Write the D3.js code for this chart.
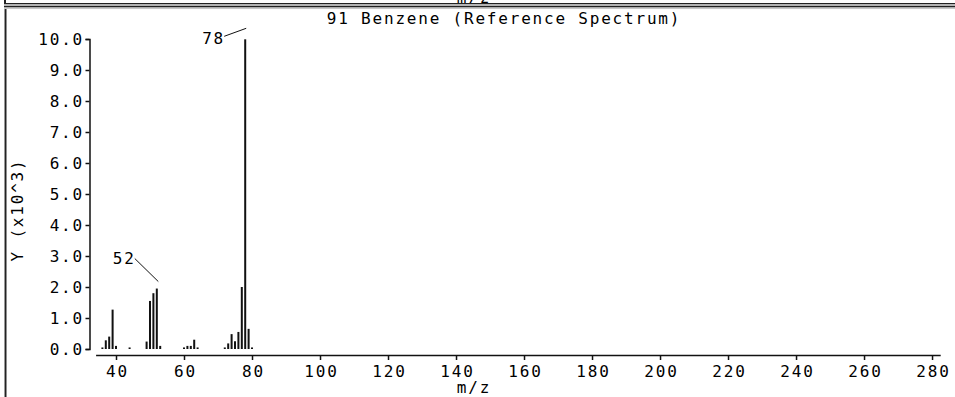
<!DOCTYPE html>
<html>
<head>
<meta charset="utf-8">
<script src="https://cdn.jsdelivr.net/npm/d3@7/dist/d3.min.js"></script>
<style>
  html, body { margin: 0; padding: 0; background: #fff; }
  svg { display: block; }
  text { font-family: "DejaVu Sans Mono", "Liberation Mono", monospace; font-size: 16px; letter-spacing: 1.8px; fill: #000; }
</style>
</head>
<body>
<script>
// Mass spectrum of benzene: m/z and relative abundance (units of 10^3)
const masses    = [36, 37, 38, 39, 40, 44, 49, 50, 51, 52, 53, 60, 61, 62, 63, 64, 72, 73, 74, 75, 76, 77, 78, 79, 80];
const abundance = [0.05, 0.28, 0.40, 1.27, 0.10, 0.05, 0.24, 1.55, 1.80, 1.95, 0.10, 0.05, 0.10, 0.10, 0.30, 0.05, 0.05, 0.18, 0.48, 0.25, 0.55, 2.00, 9.99, 0.65, 0.05];
const labelledPeaks = [52, 78];
const xTicks = [40, 60, 80, 100, 120, 140, 160, 180, 200, 220, 240, 260, 280];
const yTicks = [0, 1, 2, 3, 4, 5, 6, 7, 8, 9, 10];
const xDomain = [34, 282.4];
const yDomain = [0, 10];
const title = "91 Benzene (Reference Spectrum)";
const xTitle = "m/z";
const yTitle = "Y (x10^3)";

const W = 955, H = 397;
const svg = d3.select("body").append("svg").attr("width", W).attr("height", H);

// window frame: bands along the top (with the foot of the panel above) and a left border
const frame = svg.append("g");
frame.append("rect").attr("x", 4).attr("y", 0).attr("width", 2).attr("height", 3).attr("fill", "#222");
frame.append("text").attr("x", 474).attr("y", 2.5).attr("text-anchor", "middle").text(xTitle);
frame.append("rect").attr("x", 4).attr("y", 3).attr("width", W - 4).attr("height", 1).attr("fill", "#222");
frame.append("rect").attr("x", 4).attr("y", 4).attr("width", W - 4).attr("height", 2).attr("fill", "#b4b4b4");
frame.append("rect").attr("x", 4).attr("y", 6).attr("width", W - 4).attr("height", 1.5).attr("fill", "#222");
frame.append("rect").attr("x", 4).attr("y", 7.5).attr("width", W - 4).attr("height", 1.5).attr("fill", "#c8c8c8");
frame.append("rect").attr("x", 4).attr("y", 9).attr("width", 1).attr("height", H - 9).attr("fill", "#999");
frame.append("rect").attr("x", 5).attr("y", 9).attr("width", 1.5).attr("height", H - 9).attr("fill", "#222");

const x = d3.scaleLinear().domain(xDomain).range([95.6, 940.2]);
const y = d3.scaleLinear().domain(yDomain).range([349, 39]);

// axes
const yAxis = d3.axisLeft(y).tickValues(yTicks).tickFormat(d3.format(".1f"))
  .tickSize(4).tickSizeOuter(4).tickPadding(1.5);
const gy = svg.append("g").attr("transform", "translate(89.5,0)").call(yAxis);

const xAxis = d3.axisBottom(x).tickValues(xTicks).tickFormat(d3.format("d"))
  .tickSize(5).tickSizeOuter(0).tickPadding(6);
const gx = svg.append("g").attr("transform", "translate(0,355)").call(xAxis);

[gy, gx].forEach(g => {
  g.selectAll("path.domain").attr("stroke", "#111").attr("stroke-width", 1.5);
  g.selectAll(".tick line").attr("stroke", "#111").attr("stroke-width", 1.5);
  g.selectAll(".tick text").attr("font-family", null).attr("font-size", null).attr("fill", "#000");
});
gx.selectAll(".tick text").attr("dx", 0.9);

// peaks
const peaks = masses.map((m, i) => ({ m, v: abundance[i] }));
svg.append("g").selectAll("rect").data(peaks).join("rect")
  .attr("x", d => x(d.m) - 1)
  .attr("width", 2)
  .attr("y", d => y(d.v))
  .attr("height", d => y(0) - y(d.v))
  .attr("fill", "#111");

// leader lines and labels for the marked peaks
const leaderLayout = {
  52: { x1: -22, y1: -30, x2: 1.5, y2: -7, lx: -23, ly: -25 },
  78: { x1: -21, y1: -3, x2: 1, y2: -11, lx: -22, ly: 5 }
};
const ann = svg.append("g");
labelledPeaks.forEach(m => {
  const p = peaks.find(d => d.m === m);
  const L = leaderLayout[m];
  const px = x(p.m), py = y(p.v);
  ann.append("line")
    .attr("x1", px + L.x1).attr("y1", py + L.y1)
    .attr("x2", px + L.x2).attr("y2", py + L.y2)
    .attr("stroke", "#111").attr("stroke-width", 1);
  ann.append("text")
    .attr("x", px + L.lx + 1.8).attr("y", py + L.ly)
    .attr("text-anchor", "end").text(m);
});

// titles
svg.append("text").attr("x", 504).attr("y", 24).attr("text-anchor", "middle").text(title);
svg.append("text").attr("x", 474).attr("y", 393).attr("text-anchor", "middle").text(xTitle);
svg.append("text")
  .attr("transform", "translate(23,210) rotate(-90)")
  .attr("text-anchor", "middle").text(yTitle);
</script>
</body>
</html>
